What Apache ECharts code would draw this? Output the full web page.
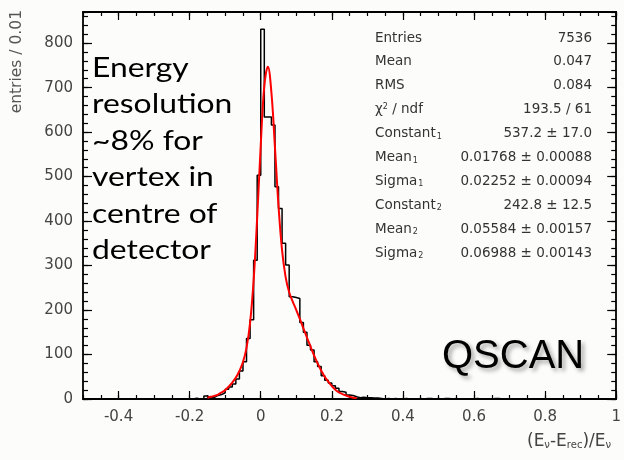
<!DOCTYPE html>
<html>
<head>
<meta charset="utf-8">
<script src="https://cdn.jsdelivr.net/npm/echarts@6/dist/echarts.min.js"></script>
<style>
  html, body { margin: 0; padding: 0; background: #fcfcfa; }
  #chart { width: 624px; height: 460px; }
</style>
</head>
<body>
<div id="chart"></div>
<script>
// histogram: bin width 0.01, first bin starts at binStart
const binStart = -0.2;
const binWidth = 0.01;
const counts = [
  0, 2, 0, 0, 7, 3, 4, 8, 10, 14,             // -0.20 .. -0.11
  22, 27, 34, 45, 63, 84, 136, 178, 312, 503, // -0.10 .. -0.01
  831, 634, 634, 616, 477, 428, 350, 301, 230, 228, // 0.00 .. 0.09
  226, 172, 150, 121, 110, 84, 73, 52, 42, 36,      // 0.10 .. 0.19
  30, 24, 17, 15, 9, 8, 5, 3, 4, 3,
  3, 2, 2, 1, 0, 1, 0, 1, 0, 0,
  1, 0, 0, 0, 1, 0, 1, 1, 0, 1,
  0, 1, 1, 0, 1, 0, 0, 0, 0, 0,
  1, 0, 0, 0, 0, 1, 1, 0, 0, 0
];
// fitted double gaussian
const fitX = [-0.15, -0.14, -0.13, -0.12, -0.11, -0.10, -0.09, -0.08, -0.07, -0.06,
  -0.05, -0.04, -0.03, -0.02, -0.01, 0.00, 0.01, 0.02, 0.03, 0.04,
  0.05, 0.06, 0.07, 0.08, 0.09, 0.10, 0.11, 0.12, 0.13, 0.14,
  0.15, 0.16, 0.17, 0.18, 0.19, 0.20, 0.21, 0.22, 0.23, 0.24,
  0.25, 0.26, 0.27];
const fitY = [3, 5, 7, 10, 15, 20, 28, 37, 48, 63,
  83, 115, 171, 267, 408, 571, 703, 747, 689, 565,
  434, 334, 274, 240, 219, 200, 180, 159, 138, 118,
  98, 80, 64, 50, 39, 29, 21, 15, 11, 8,
  5, 3, 2];
const xTicks = [-0.4, -0.2, 0, 0.2, 0.4, 0.6, 0.8, 1];
const yTicks = [0, 100, 200, 300, 400, 500, 600, 700, 800];
const statNames = ['Entries', 'Mean', 'RMS', 'χ{p|2} / ndf', 'Constant{s|1}', 'Mean{s|1}',
  'Sigma{s|1}', 'Constant{s|2}', 'Mean{s|2}', 'Sigma{s|2}'];
const statValues = ['7536', '0.047', '0.084', '193.5 / 61', '537.2 ± 17.0', '0.01768 ± 0.00088',
  '0.02252 ± 0.00094', '242.8 ± 12.5', '0.05584 ± 0.00157', '0.06988 ± 0.00143'];
const noteLines = ['Energy', 'resolution', '~8% for', 'vertex in', 'centre of', 'detector'];

const histData = counts.map((c, i) => [+(binStart + i * binWidth).toFixed(2), c]);
histData.unshift([-0.5, 0]);
histData.push([+(binStart + counts.length * binWidth).toFixed(2), 0]);
histData.push([1.0, 0]);
const fitData = fitX.map((x, i) => [x, fitY[i]]);

const rootFont = 'DejaVu Sans';
const lineStyle = { color: '#000', width: 1.8 };

function xAxisPart(pos, major, labels) {
  const ax = {
    type: 'value', min: -0.5, max: 1.0, position: pos,
    axisLine: { show: major, lineStyle: lineStyle, onZero: false },
    splitLine: { show: false },
    axisTick: { inside: true, length: major ? 8 : 4, lineStyle: { color: '#000', width: 1.2 } },
    axisLabel: { show: false }
  };
  if (major) {
    ax.axisTick.customValues = xTicks;
    if (labels) {
      ax.axisLabel = {
        show: true, customValues: xTicks, margin: 11,
        color: '#444', fontFamily: rootFont, fontSize: 15,
        formatter: v => String(+v.toFixed(1))
      };
    }
  } else {
    ax.interval = 0.05;
  }
  return ax;
}
function yAxisPart(pos, major, labels) {
  const ax = {
    type: 'value', min: 0, max: 870, position: pos,
    axisLine: { show: major, lineStyle: lineStyle, onZero: false },
    splitLine: { show: false },
    axisTick: { inside: true, length: major ? 9 : 5, lineStyle: { color: '#000', width: 1.2 } },
    axisLabel: { show: false }
  };
  if (major) {
    ax.axisTick.customValues = yTicks;
    if (labels) {
      ax.axisLabel = {
        show: true, customValues: yTicks, margin: 10,
        color: '#444', fontFamily: rootFont, fontSize: 15
      };
    }
  } else {
    ax.interval = 20;
  }
  return ax;
}

const statGraphics = [];
statNames.forEach((name, i) => {
  const y = 38 + i * 23.9;
  statGraphics.push({
    type: 'text', x: 375, y: y, z: 10,
    style: {
      text: name, fill: '#333', font: '13.5px "DejaVu Sans"', verticalAlign: 'middle',
      rich: {
        s: { fontSize: 8, fontFamily: rootFont, verticalAlign: 'bottom', lineHeight: 8, padding: [0, 0, 0, 1] },
        p: { fontSize: 8, fontFamily: rootFont, verticalAlign: 'top', lineHeight: 8 }
      }
    }
  });
  statGraphics.push({
    type: 'text', x: 592, y: y, z: 10,
    style: { text: statValues[i], fill: '#333', font: '13.5px "DejaVu Sans"', align: 'right', verticalAlign: 'middle' }
  });
});

const chart = echarts.init(document.getElementById('chart'));
const option = {
  backgroundColor: '#fcfcfa',
  animation: false,
  grid: { left: 83, right: 2, top: 12, bottom: 61, containLabel: false },
  xAxis: [xAxisPart('bottom', true, true), xAxisPart('bottom', false), xAxisPart('top', true, false), xAxisPart('top', false)],
  yAxis: [yAxisPart('left', true, true), yAxisPart('left', false), yAxisPart('right', true, false), yAxisPart('right', false)],
  series: [
    {
      name: 'hist', type: 'line', step: 'end', data: histData,
      symbol: 'none', lineStyle: { color: '#000', width: 1.5 }, z: 3
    },
    {
      name: 'fit', type: 'line', smooth: 0.4, data: fitData,
      symbol: 'none', lineStyle: { color: '#f00', width: 2 }, z: 4
    }
  ],
  graphic: [
    {
      type: 'text', x: 17, y: 10, rotation: Math.PI / 2,
      style: { text: 'entries / 0.01', fill: '#555', font: '15.5px "DejaVu Sans"', align: 'right', verticalAlign: 'middle' }
    },
    {
      type: 'text', x: 527, y: 442,
      style: {
        text: '(E{s|ν}-E{s|rec})/E{s|ν}', fill: '#444', font: '17px "DejaVu Sans"', verticalAlign: 'middle',
        rich: { s: { fontSize: 10, fontFamily: rootFont, verticalAlign: 'bottom', lineHeight: 9 } }
      }
    },
    {
      type: 'text', x: 92, y: 50, scaleX: 1.18,
      style: { text: noteLines.join('\n'), fill: '#000', font: '27px Lato', lineHeight: 36.5, verticalAlign: 'top' }
    },
    {
      type: 'text', left: 442, top: 337,
      style: {
        text: 'QSCAN', fill: '#000', font: '40px "Liberation Sans"',
        textShadowColor: 'rgba(0,0,0,0.35)', textShadowBlur: 4, textShadowOffsetX: 3, textShadowOffsetY: 3
      }
    }
  ].concat(statGraphics)
};
chart.setOption(option);
</script>
</body>
</html>
